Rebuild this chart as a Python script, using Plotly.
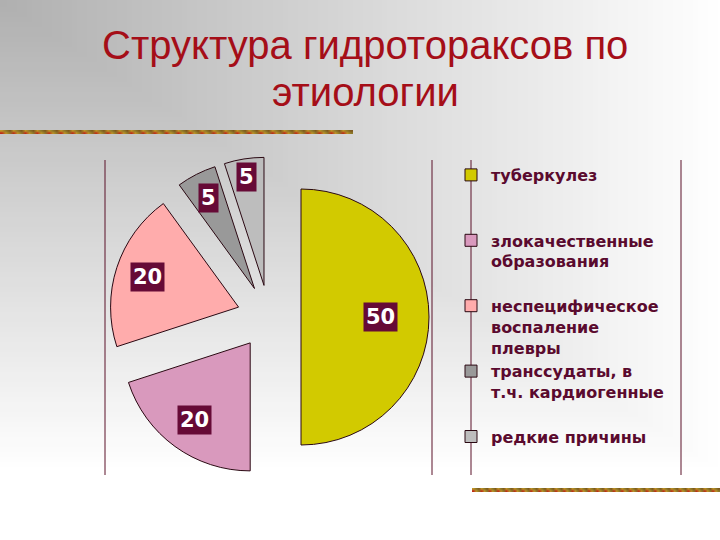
import math
import zlib
import struct
import base64
import plotly.graph_objects as go

# ---------------- data ----------------
title_text = "Структура гидротораксов по<br>этиологии"
categories = [
    "туберкулез",
    "злокачественные<br>образования",
    "неспецифическое<br>воспаление<br>плевры",
    "транссудаты, в<br>т.ч. кардиогенные",
    "редкие причины",
]
values = [50, 20, 20, 5, 5]
colors = ["#d2ca00", "#d999bd", "#ffacac", "#999999", "#bdbdbd"]

# ---------------- layout parameters ----------------
W, H = 720, 540
DOM_X_PX = (108, 430)
DOM_Y_PX = (157, 477)
PULL = 0.25
LABEL_DEPTH = [0.62, 0.74, 0.75, 0.79, 0.86]
TITLE_LINE_Y = [45, 92]


def png_uri(w, h, fn):
    raw = bytearray()
    for j in range(h):
        raw.append(0)
        for i in range(w):
            raw += bytes(fn(i, j))

    def chunk(t, d):
        c = struct.pack(">I", len(d)) + t + d
        return c + struct.pack(">I", zlib.crc32(t + d) & 0xFFFFFFFF)

    png = (b"\x89PNG\r\n\x1a\n"
           + chunk(b"IHDR", struct.pack(">IIBBBBB", w, h, 8, 2, 0, 0, 0))
           + chunk(b"IDAT", zlib.compress(bytes(raw), 9))
           + chunk(b"IEND", b""))
    return "data:image/png;base64," + base64.b64encode(png).decode()


def bg_pix(i, j, gw=144, gh=108):
    px = (i + 0.5) * W / gw
    py = (j + 0.5) * H / gh
    t = min(1.0, max(px / 720.0, py / 470.0))
    g = int(round(176 + 79 * t))
    return (g, g, g)


bg_uri = png_uri(144, 108, bg_pix)

bar_palette = [(190, 150, 40), (156, 104, 30), (126, 88, 28), (190, 44, 24),
               (206, 162, 60), (140, 120, 42), (168, 70, 24), (178, 134, 40)]


def bar_pix(i, j):
    return bar_palette[(i * 5 + i // 3 + j * 3) % len(bar_palette)]


bar_uri = png_uri(90, 2, bar_pix)

fig = go.Figure()
fig.add_trace(go.Pie(
    labels=[c + "<br> " * (3 - c.count("<br>") - 1) for c in categories],
    values=values,
    sort=False,
    direction="clockwise",
    rotation=0,
    pull=[PULL] * len(values),
    marker=dict(colors=colors, line=dict(color="#2a0812", width=1)),
    textinfo="none",
    hoverinfo="skip",
    domain=dict(x=[DOM_X_PX[0] / W, DOM_X_PX[1] / W],
                y=[1 - DOM_Y_PX[1] / H, 1 - DOM_Y_PX[0] / H]),
))

# value labels derived from pie geometry
cx = (DOM_X_PX[0] + DOM_X_PX[1]) / 2
cy = (DOM_Y_PX[0] + DOM_Y_PX[1]) / 2
r = min(DOM_X_PX[1] - DOM_X_PX[0], DOM_Y_PX[1] - DOM_Y_PX[0]) / (2 + 2 * PULL)
total = sum(values)
cum = 0
annotations = []
for v, depth in zip(values, LABEL_DEPTH):
    mid = (cum + v / 2) / total * 2 * math.pi
    cum += v
    dx, dy = math.sin(mid), -math.cos(mid)
    d = PULL * r + depth * r
    lx, ly = cx + dx * d, cy + dy * d
    annotations.append(dict(
        x=lx / W, y=1 - ly / H, xref="paper", yref="paper",
        xanchor="center", yanchor="middle",
        text=str(v), showarrow=False,
        font=dict(family="DejaVu Sans", size=21, color="white", weight="bold"),
        bgcolor="#660a36", borderpad=2,
    ))

for line, ty in zip(title_text.split("<br>"), TITLE_LINE_Y):
    annotations.append(dict(
        x=365 / W, y=1 - ty / H, xref="paper", yref="paper",
        xanchor="center", yanchor="middle",
        text=line, showarrow=False,
        font=dict(family="Liberation Sans", size=40, color="#a50e18"),
    ))

shapes = []
for xpx in (105, 432, 471, 681):
    shapes.append(dict(type="line", xref="paper", yref="paper",
                       x0=xpx / W, x1=xpx / W, y0=1 - 475 / H, y1=1 - 160 / H,
                       line=dict(color="#5a1028", width=1)))

images = [
    dict(source=bg_uri, xref="paper", yref="paper", x=0, y=1, sizex=1, sizey=1,
         xanchor="left", yanchor="top", sizing="stretch", layer="below"),
    dict(source=bar_uri, xref="paper", yref="paper", x=0, y=1 - 130 / H,
         sizex=353 / W, sizey=4 / H, xanchor="left", yanchor="top",
         sizing="stretch", layer="above"),
    dict(source=bar_uri, xref="paper", yref="paper", x=472 / W, y=1 - 488 / H,
         sizex=248 / W, sizey=4 / H, xanchor="left", yanchor="top",
         sizing="stretch", layer="above"),
]

fig.update_layout(
    width=W, height=H,
    margin=dict(l=0, r=0, t=0, b=0),
    paper_bgcolor="white",
    plot_bgcolor="rgba(0,0,0,0)",
    showlegend=True,
    legend=dict(
        x=451 / W, y=1 - 158 / H, xanchor="left", yanchor="top",
        font=dict(family="DejaVu Sans", size=16, color="#5a0a2e", weight="bold"),
        bgcolor="rgba(0,0,0,0)", valign="top", traceorder="normal",
    ),
    annotations=annotations,
    shapes=shapes,
    images=images,
)

fig.write_html("out.html", config={"displayModeBar": False},
               post_script="document.body.style.margin='0';")
